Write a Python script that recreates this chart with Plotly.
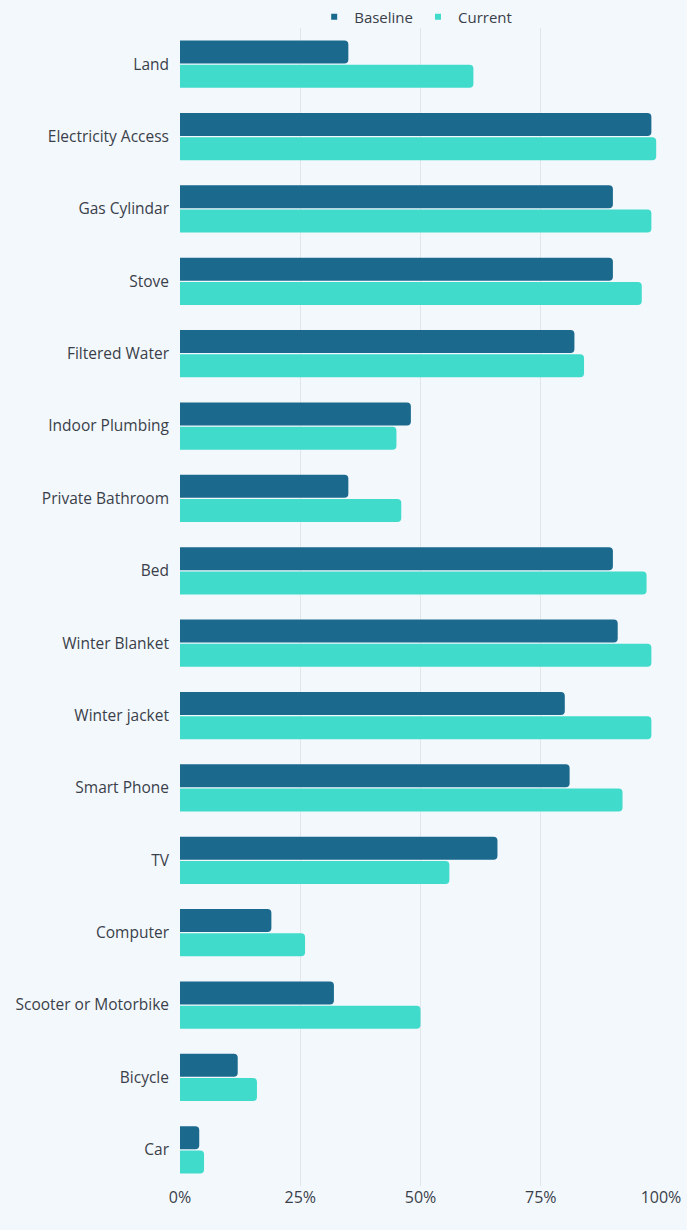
import plotly.graph_objects as go

categories = [
    "Land", "Electricity Access", "Gas Cylindar", "Stove", "Filtered Water",
    "Indoor Plumbing", "Private Bathroom", "Bed", "Winter Blanket",
    "Winter jacket", "Smart Phone", "TV", "Computer",
    "Scooter or Motorbike", "Bicycle", "Car",
]
baseline = [35, 98, 90, 90, 82, 48, 35, 90, 91, 80, 81, 66, 19, 32, 12, 4]
current = [61, 99, 98, 96, 84, 45, 46, 97, 98, 98, 92, 56, 26, 50, 16, 5]
series_names = ["Baseline", "Current"]

tick_vals = [0, 25, 50, 75, 100]
tick_text = ["0%", "25%", "50%", "75%", "100%"]

BASE_COLOR = "#1b6a8e"
CURR_COLOR = "#40dbcb"
BG = "#f3f8fd"
TEXT = "#3a3f4a"

fig = go.Figure()
for name, vals, color in zip(series_names, [baseline, current], [BASE_COLOR, CURR_COLOR]):
    fig.add_trace(go.Bar(
        name=name, y=categories, x=vals, orientation="h",
        marker=dict(color=color, line=dict(width=0)),
        showlegend=False, legendgroup=name,
    ))

# small square legend keys
for name, color in zip(series_names, [BASE_COLOR, CURR_COLOR]):
    fig.add_trace(go.Scatter(
        name=name, x=[None], y=[None], mode="markers",
        marker=dict(symbol="square", size=6, color=color),
        legendgroup=name, showlegend=True,
    ))

fig.update_layout(
    width=687, height=1230,
    barmode="group", bargap=0.33, bargroupgap=0.05,
    barcornerradius=4,
    paper_bgcolor=BG, plot_bgcolor=BG,
    font=dict(family="Open Sans, sans-serif", size=15.5, color=TEXT),
    margin=dict(l=180, r=26, t=28, b=44, autoexpand=False),
    showlegend=True,
    legend=dict(
        orientation="h", x=0.49, xanchor="center", y=1.0095, yanchor="middle",
        font=dict(size=15, color=TEXT), bgcolor="rgba(0,0,0,0)",
        itemwidth=30, traceorder="normal", tracegroupgap=0,
    ),
    xaxis=dict(
        range=[0, 100], tickvals=tick_vals, ticktext=tick_text,
        showgrid=True, gridcolor="#e2e6ea", gridwidth=1,
        zeroline=False, showline=False, ticks="",
        tickfont=dict(size=16, color=TEXT),
    ),
    yaxis=dict(
        autorange="reversed", showgrid=False, zeroline=False,
        ticks="", ticklabelstandoff=10,
    ),
)

fig.write_html("out.html")
